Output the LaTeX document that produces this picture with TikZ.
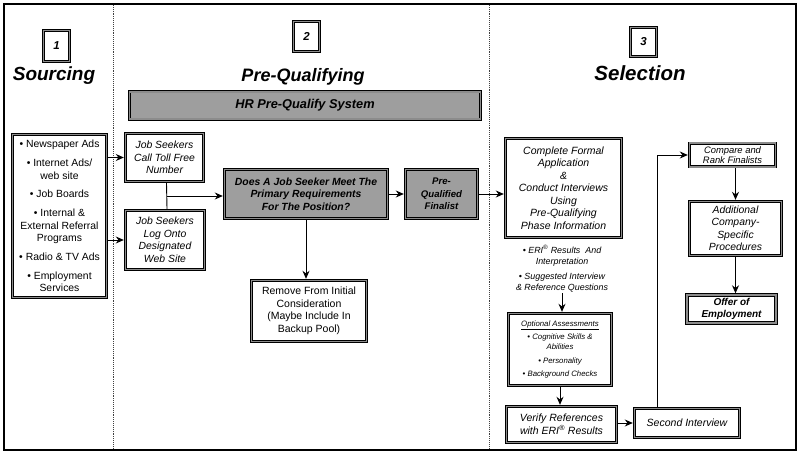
\documentclass[tikz,border=0pt]{standalone}
\usepackage{fontspec}
\setmainfont{Liberation Sans}
\usetikzlibrary{arrows.meta,calc}
\definecolor{boxgray}{gray}{0.62}
\definecolor{ringgray}{gray}{0.55}
\tikzset{
  dbox/.style={draw=black, double=ringgray, double distance=1.6pt, line width=0.9pt,
    fill=white, align=center, inner sep=0pt, outer sep=1.7pt},
  gbox/.style={dbox, fill=boxgray},
  obox/.style={dbox, line width=1.4pt, double distance=1.2pt},
  boxtxt/.style={font=\fontsize{10.4}{12.5}\selectfont\itshape},
  boldtxt/.style={font=\fontsize{10.4}{12.5}\selectfont\bfseries\itshape},
  title/.style={font=\bfseries\itshape, inner sep=0pt},
  numtxt/.style={font=\fontsize{11.5}{13}\selectfont\bfseries\itshape},
  arr/.style={-{Stealth[length=8pt,width=7pt]}, line width=0.9pt},
  conn/.style={line width=0.9pt},
  divider/.style={densely dotted, line width=0.9pt, gray!50!black}
}
\begin{document}
\begin{tikzpicture}[x=1pt,y=-1pt]
\useasboundingbox (0,0) rectangle (802,457);
\fill[white] (0,0) rectangle (802,457);
\draw[line width=1.8pt] (4,4) rectangle (796,450);
\coordinate (d1t) at (113,5); \coordinate (d1b) at (113,449);
\coordinate (d2t) at (489,5); \coordinate (d2b) at (489,449);
\draw[divider] (d1t) -- (d1b);
\draw[divider] (d2t) -- (d2b);

% numbers and titles
\node[dbox, numtxt, minimum width=26pt, minimum height=31pt] (n1) at (56.5,46) {1};
\node[dbox, numtxt, minimum width=26pt, minimum height=30pt] (n2) at (306.5,36.5) {2};
\node[dbox, numtxt, minimum width=26pt, minimum height=29pt] (n3) at (643.5,42) {3};
\node[title, font=\fontsize{19}{22}\selectfont\bfseries\itshape] (t1) at (54,76) {Sourcing};
\node[title, font=\fontsize{18}{22}\selectfont\bfseries\itshape] (t2) at (303,77) {Pre-Qualifying};
\node[title, font=\fontsize{20.5}{24}\selectfont\bfseries\itshape] (t3) at (640,73) {Selection};

% HR bar
\node[gbox, font=\fontsize{12.8}{14}\selectfont\bfseries\itshape, minimum width=351pt, minimum height=27.5pt] (hr) at (305,105.5) {HR Pre-Qualify System};

% Sourcing list
\node[dbox, font=\fontsize{10.4}{12.5}\selectfont, minimum width=94pt, minimum height=163pt] (src) at (59.5,216)
 {• Newspaper Ads\\[6.3pt]
  • Internet Ads/\\web site\\[6.3pt]
  • Job Boards\\[6.3pt]
  • Internal \&\\External Referral\\Programs\\[6.3pt]
  • Radio \& TV Ads\\[6.3pt]
  • Employment\\Services};

% Pre-qualifying boxes
\node[dbox, boxtxt, minimum width=78pt, minimum height=48pt] (call) at (164.5,157.5) {Job Seekers\\Call Toll Free\\Number};
\node[dbox, boxtxt, minimum width=79pt, minimum height=59pt] (log) at (165,240) {Job Seekers\\Log Onto\\Designated\\Web Site};
\node[gbox, boldtxt, minimum width=163pt, minimum height=49pt] (dec) at (306,194) {Does A Job Seeker Meet The\\Primary Requirements\\For The Position?};
\node[gbox, font=\fontsize{9.6}{12.5}\selectfont\bfseries\itshape, minimum width=72pt, minimum height=49pt] (pqf) at (441.5,194) {Pre-\\Qualified\\Finalist};
\node[dbox, font=\fontsize{10.5}{12.5}\selectfont, minimum width=115pt, minimum height=61pt] (rem) at (309,311) {Remove From Initial\\Consideration\\(Maybe Include In\\Backup Pool)};

% Selection
\node[dbox, font=\fontsize{10.5}{12.5}\selectfont\itshape, minimum width=116pt, minimum height=99pt] (cfa) at (563.5,188) {Complete Formal\\Application\\\&\\Conduct Interviews\\Using\\Pre-Qualifying\\Phase Information};
\node[font=\fontsize{8.9}{11}\selectfont\itshape, align=center, inner sep=0pt] (eri) at (562,255.5) {• ERI\textsuperscript{®} Results\ \ And\\Interpretation};
\node[font=\fontsize{8.9}{11}\selectfont\itshape, align=center, inner sep=1pt] (sug) at (562,282.5) {• Suggested Interview\\\& Reference Questions};
\node[dbox, font=\fontsize{7.8}{10}\selectfont\itshape, minimum width=103pt, minimum height=72pt] (opt) at (560,349.5)
 {\underline{Optional Assessments}\\[3pt]
  • Cognitive Skills \&\\Abilities\\[3.5pt]
  • Personality\\[3.5pt]
  • Background Checks};
\node[dbox, font=\fontsize{10.5}{13}\selectfont\itshape, minimum width=110pt, minimum height=36pt] (ver) at (561.5,424.5) {Verify References\\with ERI\textsuperscript{®} Results};
\node[dbox, font=\fontsize{10.5}{13}\selectfont\itshape, minimum width=105pt, minimum height=29pt] (sec) at (687,423) {Second Interview};
\node[dbox, font=\fontsize{9.4}{10.4}\selectfont\itshape, minimum width=86pt, minimum height=23.5pt] (cmp) at (732.5,155) {Compare and\\Rank Finalists};
\node[dbox, boxtxt, minimum width=92pt, minimum height=54pt] (add) at (735.5,228.5) {Additional\\Company-\\Specific\\Procedures};
\node[obox, font=\fontsize{10}{12.5}\selectfont\bfseries\itshape, minimum width=89pt, minimum height=28pt] (off) at (731.5,309) {Offer of\\Employment};

% connectors
\draw[arr] (src.east |- call.west) -- (call.west);
\draw[arr] (src.east |- log.west) -- (log.west);
\coordinate (jv) at ($(call.south)!0.5!(log.north)$);
\draw[conn] ([xshift=2pt]call.south) -- ([xshift=2pt]log.north);
\draw[arr] ([xshift=2pt]jv) -- (jv -| dec.west);
\draw[arr] (dec.east) -- (pqf.west);
\draw[arr] (pqf.east) -- (pqf.east -| cfa.west);
\draw[arr] (dec.south) -- (dec.south |- rem.north);
\draw[arr] (sug.south) -- (sug.south |- opt.north);
\draw[arr] (opt.south) -- (opt.south |- ver.north);
\draw[arr] (ver.east |- sec.west) -- (sec.west);
\coordinate (turn) at (657,155);
\draw[arr] (sec.north -| turn) -- (turn) -- (cmp.west);
\draw[arr] (cmp.south -| add.north) -- (add.north);
\draw[arr] (add.south) -- (add.south |- off.north);
\end{tikzpicture}
\end{document}
